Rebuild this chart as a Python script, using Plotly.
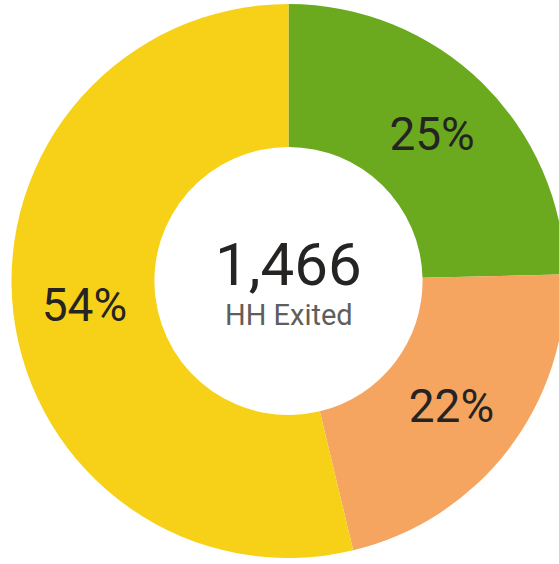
import plotly.graph_objects as go

# Data
labels = ["Group A", "Group B", "Group C"]
values = [361, 317, 788]
colors = ["#6BA91E", "#F5A560", "#F7D117"]
center_value = "1,466"
center_label = "HH Exited"

W, H = 580, 564
cx, cy, R = 288.5, 281.0, 277.0

fig = go.Figure(
    go.Pie(
        labels=labels,
        values=values,
        hole=0.484,
        sort=False,
        direction="clockwise",
        rotation=0,
        marker=dict(colors=colors, line=dict(width=0)),
        texttemplate="%{percent:.0%}",
        textposition="inside",
        insidetextorientation="horizontal",
        textfont=dict(family="Roboto", size=46, color="#252423"),
        domain=dict(x=[(cx - R) / W, (cx + R) / W], y=[(H - cy - R) / H, (H - cy + R) / H]),
        showlegend=False,
        hoverinfo="none",
    )
)

fig.add_annotation(
    text=center_value, x=cx / W, y=(H - 264) / H, xref="paper", yref="paper",
    showarrow=False, xanchor="center", yanchor="middle",
    font=dict(family="Roboto", size=60, color="#252423"),
)
fig.add_annotation(
    text=center_label, x=cx / W, y=(H - 315) / H, xref="paper", yref="paper",
    showarrow=False, xanchor="center", yanchor="middle",
    font=dict(family="Roboto", size=29, color="#605E5C"),
)

fig.update_layout(
    width=W, height=H,
    margin=dict(l=0, r=0, t=0, b=0),
    paper_bgcolor="white", plot_bgcolor="white",
)

fig.write_html(
    "out.html",
    config={"displayModeBar": False},
    post_script="document.body.style.margin='0';document.body.style.overflow='hidden';",
)
